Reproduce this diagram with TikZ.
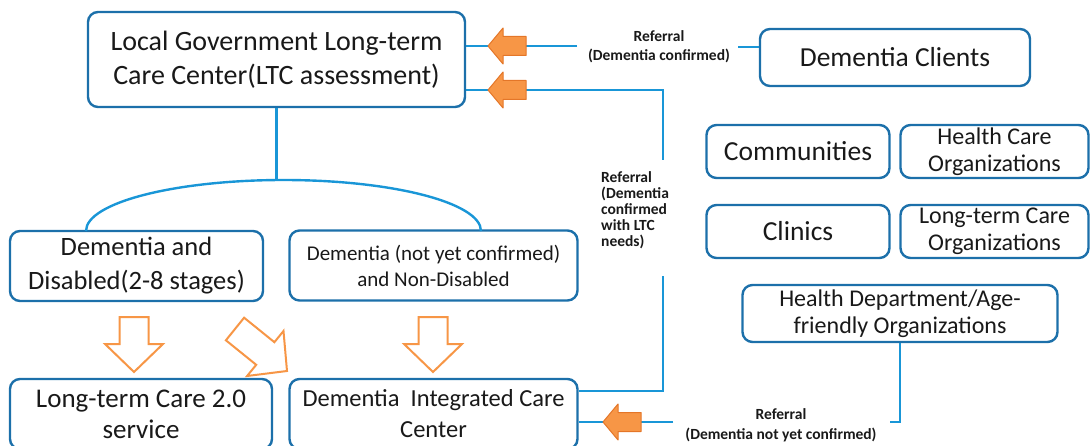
\documentclass[tikz,border=0pt]{standalone}
\usepackage{fontspec}
\setmainfont{Carlito}
\definecolor{boxblue}{RGB}{28,112,170}
\definecolor{linblue}{RGB}{25,150,215}
\definecolor{orng}{RGB}{247,150,70}
\definecolor{orngd}{RGB}{228,118,40}
\definecolor{txt}{RGB}{25,25,25}
\tikzset{
  box/.style={draw=boxblue, line width=2.4pt, rounded corners=10pt, fill=white, align=center, inner sep=0pt, text=txt},
  conn/.style={draw=linblue, line width=2.4pt},
  lbl/.style={font=\bfseries\fontsize{15.5}{19}\selectfont, align=center, text=txt},
  farrow/.style={fill=orng, draw=orngd, line width=1pt, line join=round},
  harrow/.style={fill=white, draw=orng, line width=2pt, line join=miter},
  farr/.pic={\draw[farrow] (0,0) -- (15,-18) -- (15,-9.5) -- (38,-9.5) -- (38,9.5) -- (15,9.5) -- (15,18) -- cycle;},
  harr/.pic={\draw[harrow] (-14.5,0) -- (14.5,0) -- (14.5,27) -- (29,27) -- (0,55) -- (-29,27) -- (-14.5,27) -- cycle;}
}
\begin{document}
\begin{tikzpicture}[x=1pt,y=-1pt]
\useasboundingbox (0,0) rectangle (1091,446);
% boxes
\node[box, minimum width=377pt, minimum height=95pt, font=\fontsize{28}{34}\selectfont] (lg) at (276.5,59.5) {Local Government Long-term\\Care Center(LTC assessment)};
\node[box, minimum width=270pt, minimum height=57pt, font=\fontsize{27.5}{30}\selectfont] (dc) at (895,57.5) {Dementia Clients};
\node[box, minimum width=183pt, minimum height=53pt, font=\fontsize{27.5}{30}\selectfont] (comm) at (798,151.5) {Communities};
\node[box, minimum width=188pt, minimum height=53pt, font=\fontsize{24}{27}\selectfont] (hco) at (994.5,151.5) {Health Care\\Organizations};
\node[box, minimum width=183pt, minimum height=53pt, font=\fontsize{27.5}{30}\selectfont] (clin) at (798,231.5) {Clinics};
\node[box, minimum width=188pt, minimum height=53pt, font=\fontsize{24}{27}\selectfont] (ltco) at (994.5,231.5) {Long-term Care\\Organizations};
\node[box, minimum width=315pt, minimum height=57pt, font=\fontsize{24}{27}\selectfont] (hd) at (900,313.5) {Health Department/Age-\\friendly Organizations};
\node[box, minimum width=253pt, minimum height=70pt, font=\fontsize{26.5}{34}\selectfont] (dd) at (136.5,266) {Dementia and\\Disabled(2-8 stages)};
\node[box, minimum width=288pt, minimum height=70pt, font=\fontsize{21}{26}\selectfont] (dnc) at (433.5,265.5) {Dementia (not yet confirmed)\\and Non-Disabled};
\node[box, minimum width=262pt, minimum height=70pt, font=\fontsize{27}{31}\selectfont] (ltc) at (141,414) {Long-term Care 2.0\\service};
\node[box, minimum width=288pt, minimum height=70pt, font=\fontsize{24.5}{31}\selectfont] (dicc) at (433.5,414) {Dementia~ Integrated Care\\Center};
% labels
\node[lbl, inner xsep=8pt, inner ysep=2pt] (ref1) at (659,47) {Referral\\(Dementia confirmed)};
\node[lbl, align=left, anchor=north west, inner sep=0pt, font=\bfseries\fontsize{15.5}{16}\selectfont] (ref2) at (601,171) {Referral\\(Dementia\\confirmed\\with LTC\\needs)};
\node[lbl, inner xsep=10pt, inner ysep=2pt, font=\bfseries\fontsize{15.5}{20}\selectfont] (ref3) at (781,425) {Referral\\(Dementia not yet confirmed)};
% coordinates
\coordinate (r1) at (577,46);
\coordinate (r2a) at (663,90);
\coordinate (r2top) at (663,160);
\coordinate (r2bot) at (663,276);
\coordinate (r2c) at (663,391);
\coordinate (r3l) at (673,422);
\coordinate (r3c) at (900,422);
\coordinate (r3r) at (890,422);
\coordinate (arctop) at (276.5,180);
% connectors
\draw[conn] (ref1.east) -- (ref1.east -| dc.west);
\draw[conn] (r1) -- (lg.east |- r1);
\draw[conn] (r2top) -- (r2a) -- (lg.east |- r2a);
\draw[conn] (r2bot) -- (r2c) -- (dicc.east |- r2c);
\draw[conn] (hd.south) -- (r3c) -- (r3r);
\draw[conn] (r3l) -- (dicc.east |- r3l);
\draw[conn] (lg.south) -- (arctop);
\draw[conn] (86,231) arc[start angle=180, end angle=0, x radius=197.5pt, y radius=51pt];
% filled arrows
\pic at (488,46) {farr};
\pic at (488,90) {farr};
\pic at (603,422) {farr};
% hollow arrows
\pic at (134,317) {harr};
\pic at (433,317) {harr};
\draw[harrow] (244.1,317.7) -- (274.4,342.2) -- (283.5,331.0) -- (287,371) -- (247.1,376.0) -- (256.2,364.8) -- (225.9,340.3) -- cycle;
\end{tikzpicture}
\end{document}
